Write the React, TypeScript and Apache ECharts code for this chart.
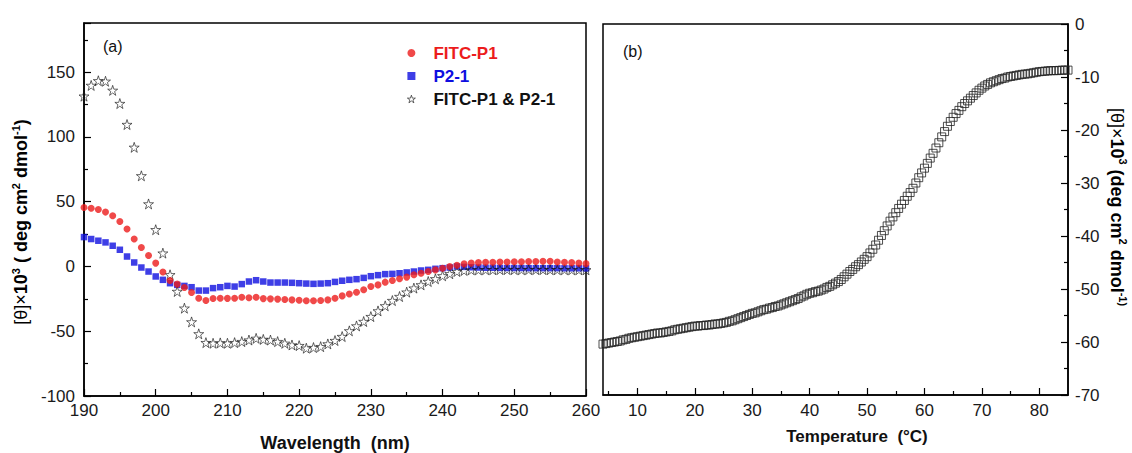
import React, { useEffect, useRef } from "react";
import * as echarts from "echarts";

const FONT = "Liberation Sans, Arial, sans-serif";

// ---------- Panel (a): CD spectra ----------
const wavelength = [
  190, 191, 192, 193, 194, 195, 196, 197, 198, 199,
  200, 201, 202, 203, 204, 205, 206, 207, 208, 209,
  210, 211, 212, 213, 214, 215, 216, 217, 218, 219,
  220, 221, 222, 223, 224, 225, 226, 227, 228, 229,
  230, 231, 232, 233, 234, 235, 236, 237, 238, 239,
  240, 241, 242, 243, 244, 245, 246, 247, 248, 249,
  250, 251, 252, 253, 254, 255, 256, 257, 258, 259, 260,
];

const fitcP1 = [
  45.5, 45, 44, 42, 39.2, 34.8, 28.9, 21.2, 14.7, 8.5,
  2.6, -4.3, -10.8, -13.6, -16.2, -20.1, -24.5, -26.3, -24.7, -24.5,
  -24.6, -24.5, -23.7, -24.2, -23.7, -24.8, -25, -25.2, -25.5, -25.8,
  -26.1, -26.5, -26.5, -26.3, -25.8, -24.5, -22.7, -21.2, -19.9, -18,
  -15.5, -14.2, -12.1, -10.8, -9.5, -8.2, -6.4, -5.2, -3.9, -2.6,
  -1.3, 0, 1, 2, 2.6, 3, 3.2, 3.3, 3.4, 3.5,
  3.6, 3.7, 3.8, 3.9, 4, 4, 3.5, 3.2, 3, 2.6, 2.2,
];

const p21 = [
  22.7, 21.2, 19.9, 18.6, 16, 12.9, 7.7, 3.1, -0.8, -3.9,
  -7.7, -10.3, -12.9, -14.2, -15, -16, -18.6, -18.6, -16.7, -16,
  -15, -15.5, -13.6, -11.6, -10.6, -11.6, -12.4, -12.4, -12.4, -12.6,
  -12.9, -13.2, -13.4, -13.2, -12.9, -11.9, -11, -10.3, -9.8, -8.8,
  -7.5, -6.7, -5.9, -5.7, -5.2, -4.6, -3.9, -3.1, -2.6, -1.8,
  -1.3, -0.8, 0, -0.3, -0.6, -0.8, -1, -1, -1.1, -1.2,
  -1.2, -1.2, -1.3, -1.3, -1.3, -1.3, -1.3, -1.4, -1.4, -1.4, -1.5,
];

const mixture = [
  131.5, 139.8, 143.4, 143, 136, 125.8, 109.6, 92, 70, 48.3,
  28.4, 10.3, -6.4, -19.3, -32.2, -42.8, -52, -58.8, -59.3, -59,
  -59.3, -58.8, -58, -56.8, -55.5, -56.3, -56.8, -58, -59.3, -60.6,
  -61.1, -63.1, -62.6, -61.9, -59.8, -57.2, -54.1, -49.7, -45.9, -42.5,
  -38.7, -34.3, -30.4, -26.3, -23.2, -19.8, -16.7, -14.2, -11.6, -9.5,
  -7.2, -5.6, -3.9, -3.1, -2.6, -2.6, -2.5, -2.5, -2.4, -2.4,
  -2.4, -2.5, -2.4, -2.4, -2.4, -2.5, -2.5, -2.5, -2.6, -2.6, -2.6,
];

// ---------- Panel (b): thermal melt ----------
const temperature = [
  4, 4.5, 5, 5.5, 6, 6.5, 7, 7.5, 8, 8.5, 9, 9.5,
  10, 10.5, 11, 11.5, 12, 12.5, 13, 13.5, 14, 14.5, 15, 15.5, 16, 16.5, 17, 17.5, 18, 18.5, 19, 19.5,
  20, 20.5, 21, 21.5, 22, 22.5, 23, 23.5, 24, 24.5, 25, 25.5, 26, 26.5, 27, 27.5, 28, 28.5, 29, 29.5,
  30, 30.5, 31, 31.5, 32, 32.5, 33, 33.5, 34, 34.5, 35, 35.5, 36, 36.5, 37, 37.5, 38, 38.5, 39, 39.5,
  40, 40.5, 41, 41.5, 42, 42.5, 43, 43.5, 44, 44.5, 45, 45.5, 46, 46.5, 47, 47.5, 48, 48.5, 49, 49.5,
  50, 50.5, 51, 51.5, 52, 52.5, 53, 53.5, 54, 54.5, 55, 55.5, 56, 56.5, 57, 57.5, 58, 58.5, 59, 59.5,
  60, 60.5, 61, 61.5, 62, 62.5, 63, 63.5, 64, 64.5, 65, 65.5, 66, 66.5, 67, 67.5, 68, 68.5, 69, 69.5,
  70, 70.5, 71, 71.5, 72, 72.5, 73, 73.5, 74, 74.5, 75, 75.5, 76, 76.5, 77, 77.5, 78, 78.5, 79, 79.5,
  80, 80.5, 81, 81.5, 82, 82.5, 83, 83.5, 84, 84.5, 85,
];

const ellipticity = [
  -60.4, -60.3, -60.2, -60.1, -60.0, -59.9, -59.8, -59.6, -59.5, -59.3, -59.2, -59.1,
  -59.0, -58.9, -58.8, -58.7, -58.6, -58.5, -58.4, -58.3, -58.3, -58.2, -58.1, -58.0, -57.9, -57.7, -57.6, -57.5, -57.4, -57.3, -57.2, -57.1,
  -57.0, -57.0, -56.9, -56.9, -56.8, -56.8, -56.7, -56.6, -56.6, -56.5, -56.4, -56.3, -56.1, -56.0, -55.8, -55.6, -55.4, -55.2, -55.0, -54.8,
  -54.6, -54.5, -54.3, -54.1, -53.9, -53.8, -53.6, -53.5, -53.3, -53.2, -53.0, -52.8, -52.6, -52.4, -52.2, -52.0, -51.8, -51.5, -51.3, -51.0,
  -50.8, -50.7, -50.5, -50.4, -50.2, -50.0, -49.7, -49.5, -49.2, -48.9, -48.6, -48.2, -47.7, -47.2, -46.7, -46.3, -45.8, -45.4, -44.9, -44.4,
  -43.9, -43.2, -42.5, -41.7, -40.8, -39.9, -39.0, -38.1, -37.2, -36.4, -35.6, -34.8, -34.0, -33.3, -32.5, -31.8, -31.0, -30.0, -29.0, -28.1,
  -27.2, -26.3, -25.3, -24.4, -23.4, -22.4, -21.3, -20.3, -19.3, -18.4, -17.6, -16.9, -16.3, -15.6, -15.0, -14.5, -14.0, -13.5, -13.0, -12.5,
  -12.1, -11.7, -11.4, -11.1, -10.9, -10.7, -10.5, -10.3, -10.2, -10.0, -9.9, -9.8, -9.7, -9.6, -9.5, -9.45, -9.4, -9.3, -9.2, -9.1,
  -9.0, -8.95, -8.9, -8.85, -8.8, -8.8, -8.8, -8.75, -8.7, -8.7, -8.7,
];

const tempMajorTicks = [10, 20, 30, 40, 50, 60, 70, 80];
const tempMinorTicks = [5, 15, 25, 35, 45, 55, 65, 75];

const seriesNames = ["FITC-P1", "P2-1", "FITC-P1 & P2-1"];

const STAR =
  "path://M50,2 L61.8,37.6 L99,37.6 L68.9,59.5 L80.3,95 L50,73 L19.7,95 L31.1,59.5 L1,37.6 L38.2,37.6 Z";

const RED = "#ec1c1c";
const BLUE = "#0e0ee0";

const axisLine = { onZero: false, lineStyle: { color: "#000", width: 1.5 } };
const tickLine = { color: "#000", width: 1.2 };
const labelStyle = { fontFamily: FONT, fontSize: 17, color: "#1a1a1a" };

function pairs(xs: number[], ys: number[]) {
  return xs.map((x, i) => [x, ys[i]]);
}

const richTitle = {
  n: { fontFamily: FONT, fontSize: 18, fontWeight: "normal", color: "#111", lineHeight: 22 },
  b: { fontFamily: FONT, fontSize: 18, fontWeight: "bold", color: "#111", lineHeight: 22 },
  s: { fontFamily: FONT, fontSize: 11, fontWeight: "bold", color: "#111", lineHeight: 12, verticalAlign: "top" },
};

export default function App() {
  const ref = useRef<HTMLDivElement>(null);
  useEffect(() => {
    if (!ref.current) return;
    const chart = echarts.init(ref.current, undefined, { renderer: "svg" });
    const option: any = {
      animation: false,
      backgroundColor: "#fff",
      grid: [
        { left: 84, top: 23, width: 502, height: 373, show: true, borderColor: "#000", borderWidth: 1.5 },
        { left: 603, top: 24, width: 465, height: 371, show: true, borderColor: "#000", borderWidth: 1.5 },
      ],
      xAxis: [
        {
          gridIndex: 0, type: "value", min: 190, max: 260, interval: 10,
          axisLine, splitLine: { show: false },
          axisTick: { inside: true, length: 7, lineStyle: tickLine },
          minorTick: { show: true, splitNumber: 2, length: 4, lineStyle: tickLine },
          axisLabel: { ...labelStyle, margin: 6 },
        },
        {
          gridIndex: 1, type: "value", min: 4, max: 85, position: "bottom",
          axisLine, splitLine: { show: false },
          axisTick: { inside: true, length: 7, lineStyle: tickLine, customValues: tempMajorTicks },
          axisLabel: { ...labelStyle, margin: 7, customValues: tempMajorTicks },
        },
        {
          gridIndex: 1, type: "value", min: 4, max: 85, position: "bottom",
          axisLine: { show: false, onZero: false }, splitLine: { show: false },
          axisTick: { inside: true, length: 4, lineStyle: tickLine, customValues: tempMinorTicks },
          axisLabel: { show: false },
        },
      ],
      yAxis: [
        {
          gridIndex: 0, type: "value", min: -100, max: 188, interval: 50,
          axisLine, splitLine: { show: false },
          axisTick: { inside: true, length: 7, lineStyle: tickLine },
          minorTick: { show: true, splitNumber: 2, length: 4, lineStyle: tickLine },
          axisLabel: {
            ...labelStyle, margin: 9,
            formatter: (v: number) => (v % 50 === 0 ? String(v) : ""),
          },
        },
        {
          gridIndex: 1, type: "value", position: "right", min: -70, max: 0, interval: 10,
          axisLine, splitLine: { show: false },
          axisTick: { inside: true, length: 7, lineStyle: tickLine },
          minorTick: { show: true, splitNumber: 2, length: 4, lineStyle: tickLine },
          axisLabel: { ...labelStyle, margin: 7 },
        },
      ],
      legend: {
        orient: "vertical", left: 402, top: 39, itemWidth: 8, itemHeight: 8, itemGap: 5,
        textStyle: { fontFamily: FONT, fontSize: 17, fontWeight: "bold", lineHeight: 18, padding: [0, 0, 0, 13] },
        data: [
          { name: seriesNames[0], icon: "circle", itemStyle: { color: RED }, textStyle: { color: RED } },
          { name: seriesNames[1], icon: "rect", itemStyle: { color: BLUE }, textStyle: { color: BLUE } },
          {
            name: seriesNames[2], icon: STAR,
            itemStyle: { color: "rgba(255,255,255,0)", borderColor: "#111", borderWidth: 0.8 },
            textStyle: { color: "#111" },
          },
        ],
      },
      series: [
        {
          name: seriesNames[1], type: "scatter", xAxisIndex: 0, yAxisIndex: 0,
          symbol: "rect", symbolSize: 6.5, itemStyle: { color: BLUE },
          data: pairs(wavelength, p21),
        },
        {
          name: seriesNames[2], type: "scatter", xAxisIndex: 0, yAxisIndex: 0,
          symbol: STAR, symbolSize: 10,
          itemStyle: { color: "rgba(255,255,255,0)", borderColor: "#111", borderWidth: 0.8 },
          data: pairs(wavelength, mixture),
        },
        {
          name: seriesNames[0], type: "scatter", xAxisIndex: 0, yAxisIndex: 0,
          symbol: "circle", symbolSize: 7, itemStyle: { color: RED },
          data: pairs(wavelength, fitcP1),
        },
        {
          name: "melt", type: "scatter", xAxisIndex: 1, yAxisIndex: 1,
          symbol: "rect", symbolSize: 8,
          itemStyle: { color: "rgba(255,255,255,0)", borderColor: "#222", borderWidth: 1 },
          data: pairs(temperature, ellipticity),
        },
      ],
      graphic: [
        { type: "text", left: 103, top: 38, style: { text: "(a)", fontFamily: FONT, fontSize: 16, fill: "#111" } },
        { type: "text", left: 623, top: 43, style: { text: "(b)", fontFamily: FONT, fontSize: 16, fill: "#111" } },
        {
          type: "text", x: 335, y: 443,
          style: { text: "Wavelength  (nm)", fontFamily: FONT, fontSize: 18, fontWeight: "bold", fill: "#111", align: "center", verticalAlign: "middle" },
        },
        {
          type: "text", x: 857, y: 436,
          style: { text: "Temperature  (°C)", fontFamily: FONT, fontSize: 17, fontWeight: "bold", fill: "#111", align: "center", verticalAlign: "middle" },
        },
        {
          type: "text", x: 21, y: 222, rotation: Math.PI / 2,
          style: {
            text: "{n|[θ]×}{b|10}{s|3}{b| ( deg cm}{s|2}{b| dmol}{s|-1}{b|)}",
            rich: richTitle, align: "center", verticalAlign: "middle",
          },
        },
        {
          type: "text", x: 1117, y: 207, rotation: -Math.PI / 2,
          style: {
            text: "{n|[θ]×}{b|10}{s|3}{b| (deg cm}{s|2}{b| dmol}{s|-1)}",
            rich: richTitle, align: "center", verticalAlign: "middle",
          },
        },
      ],
    };
    chart.setOption(option);
    return () => chart.dispose();
  }, []);
  return (
    <div
      ref={ref}
      style={{ position: "fixed", left: 0, top: 0, width: 1132, height: 453 }}
    />
  );
}
